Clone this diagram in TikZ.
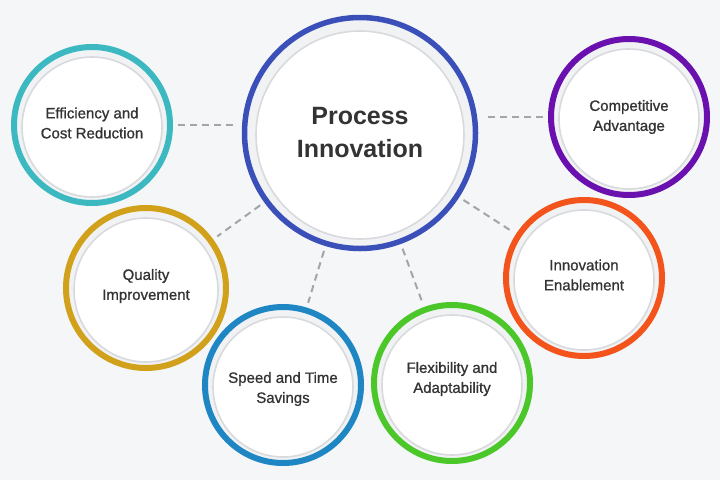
\documentclass[tikz,border=0pt]{standalone}
\usepackage{fontspec}
\setmainfont{Liberation Sans}
\newfontfamily\medfont{Liberation Sans}[FakeBold=0.9]
\definecolor{bgc}{HTML}{F4F6F8}
\definecolor{txt}{HTML}{333333}
\definecolor{band}{HTML}{F1F2F4}
\definecolor{ringgray}{HTML}{D9DADD}
\definecolor{cblue}{HTML}{3A4FB8}
\definecolor{cteal}{HTML}{3BB8C0}
\definecolor{cgold}{HTML}{D2A11C}
\definecolor{cspeed}{HTML}{1F86C4}
\definecolor{cgreen}{HTML}{4CC72A}
\definecolor{corange}{HTML}{F2541B}
\definecolor{cpurple}{HTML}{6A10AE}
\definecolor{dashc}{HTML}{A3A5A8}
\tikzset{
  bub/.style={circle, draw=#1, line width=6pt, fill=band, minimum size=156pt, inner sep=0pt},
  hub/.style={circle, draw=#1, line width=5.5pt, fill=band, minimum size=231pt, inner sep=0pt},
  inner/.style={draw=ringgray, line width=1.6pt, fill=white},
  lbl/.style={text=txt, font=\medfont\fontsize{15}{20}\selectfont, align=center},
  hubl/.style={text=txt, font=\fontsize{25}{33}\selectfont\bfseries, align=center},
  link/.style={draw=dashc, line width=2pt, dash pattern=on 7pt off 5pt, shorten <=5pt, shorten >=5pt}
}
\begin{document}
\begin{tikzpicture}[x=1pt,y=-1pt]
\useasboundingbox (0,0) rectangle (720,480);
\fill[bgc] (0,0) rectangle (720,480);
% hub
\node[hub=cblue] (c) at (360,133) {};
\fill[white] (360,135) circle (104);
\draw[inner] (360,135) circle (104);
\node[hubl] (ct) at (360,133) {Process\\Innovation};
% satellites
\node[bub=cteal] (eff) at (92,125) {};
\node[bub=cgold, minimum size=160pt] (qual) at (146,288) {};
\node[bub=cspeed] (spd) at (283,385) {};
\node[bub=cgreen] (flx) at (452,383) {};
\node[bub=corange] (inv) at (584,278) {};
\node[bub=cpurple] (cmp) at (629,117) {};
\foreach \n/\r in {eff/70, qual/72, spd/70, flx/70, inv/70, cmp/70}{
  \fill[white] ([yshift=-2pt]\n.center) circle (\r);
  \draw[inner] ([yshift=-2pt]\n.center) circle (\r);
}
\node[lbl] (efft) at (92,123) {Efficiency and\\Cost Reduction};
\node[lbl] (qualt) at (146,286) {Quality\\Improvement};
\node[lbl] (spdt) at (283,389) {Speed and Time\\Savings};
\node[lbl] (flxt) at (452,379) {Flexibility and\\Adaptability};
\node[lbl] (invt) at (584,275) {Innovation\\Enablement};
\node[lbl] (cmpt) at (629,117) {Competitive\\Advantage};
% connectors
\draw[link] (eff.east) -- (c.west |- eff.east);
\draw[link] (cmp.west) -- (c.east |- cmp.west);
\draw[link] (c) -- (qual);
\draw[link] (c) -- (spd);
\draw[link] (c) -- (flx);
\draw[link] (c) -- (inv);
\end{tikzpicture}
\end{document}
